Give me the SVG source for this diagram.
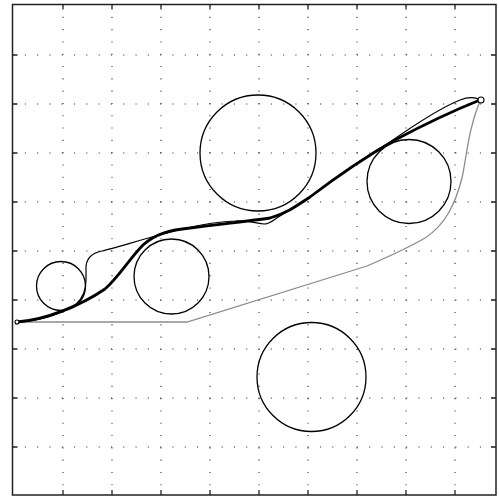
<svg xmlns="http://www.w3.org/2000/svg" width="499" height="497" viewBox="0 0 499 497">
<style>
.grid{stroke:#333;stroke-width:1.1;stroke-dasharray:1.1 11.2;fill:none}
.tick{stroke:#222;stroke-width:1.3}
.frame{fill:none;stroke:#222;stroke-width:1.5}
.obs{fill:none;stroke:#000;stroke-width:1.3}
.thick{fill:none;stroke:#000;stroke-width:2.8;stroke-linejoin:round}
.thin{fill:none;stroke:#000;stroke-width:1.2}
.gray{fill:none;stroke:#8c8c8c;stroke-width:1.3}
.pt{fill:#fff;stroke:#000;stroke-width:1.1}
</style>
<rect width="499" height="497" fill="#fff"/>
<g id="grid">
<path class="grid" d="M63,4.5V495M112,4.5V495M161,4.5V495M210,4.5V495M259,4.5V495M308,4.5V495M357,4.5V495M406,4.5V495M455,4.5V495"/>
<path class="grid" d="M12.5,55H496M12.5,104H496M12.5,153H496M12.5,202H496M12.5,251H496M12.5,300H496M12.5,349H496M12.5,398H496M12.5,447H496"/>
</g>
<g id="axes">
<rect class="frame" x="12.5" y="4.5" width="483.5" height="490.5"/>
<path class="tick" d="M63,4.5v5M112,4.5v5M161,4.5v5M210,4.5v5M259,4.5v5M308,4.5v5M357,4.5v5M406,4.5v5M455,4.5v5M63,495v-5M112,495v-5M161,495v-5M210,495v-5M259,495v-5M308,495v-5M357,495v-5M406,495v-5M455,495v-5"/>
<path class="tick" d="M12.5,55h5M12.5,104h5M12.5,153h5M12.5,202h5M12.5,251h5M12.5,300h5M12.5,349h5M12.5,398h5M12.5,447h5M496,55h-5M496,104h-5M496,153h-5M496,202h-5M496,251h-5M496,300h-5M496,349h-5M496,398h-5M496,447h-5"/>
</g>
<g id="obstacle-1"><circle class="obs" cx="61" cy="286" r="24.5"/></g>
<g id="obstacle-2"><circle class="obs" cx="171.5" cy="276.5" r="37.5"/></g>
<g id="obstacle-3"><circle class="obs" cx="258" cy="153" r="58"/></g>
<g id="obstacle-4"><circle class="obs" cx="409" cy="181.5" r="42"/></g>
<g id="obstacle-5"><circle class="obs" cx="311.5" cy="377" r="54.5"/></g>
<g id="connectors">
<path class="gray" d="M17,322H187L367,266C390,256 410,247 425,238C445,225 455,205 462,178C467,155 468,130 480,101"/>
<path class="thin" d="M17,322C40,321 62,314 76,304C83,298 86,290 86,280L86,268C86,258 92,253 102,251C115,248 140,240 163,234C185,228 210,222 235,221C250,220 258,224 264,224C270,224 273,220 280,216C292,209 300,203 310,197C335,178 360,160 390,142C410,128 440,108 460,100C468,97 475,97 480,100"/>
<path class="thick" d="M17,322C45,320 80,306 105,289C118,278 130,258 143,245C155,234 170,230 190,228C220,224 250,221 270,218C285,214 295,207 310,197C335,178 360,160 395,140C425,124 455,110 480,100"/>
</g>
<g id="start"><circle class="pt" cx="17" cy="322" r="2"/></g>
<g id="goal"><circle class="pt" cx="481" cy="100" r="3"/></g>
</svg>
